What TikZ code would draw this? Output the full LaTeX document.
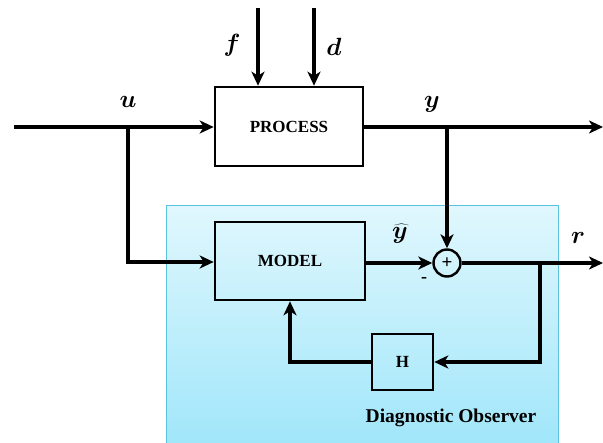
\documentclass[tikz,border=0pt]{standalone}
\usepackage{fontspec}
\setmainfont{Liberation Serif}
\usetikzlibrary{arrows.meta,calc}
\definecolor{obstop}{HTML}{E0F7FD}
\definecolor{obsbot}{HTML}{9FE6FA}
\definecolor{obsedge}{HTML}{5BC3DE}
\tikzset{
  blockbox/.style={draw=black, line width=2.6pt, minimum width=148pt, minimum height=79pt, font=\bfseries\fontsize{17}{19}\selectfont, inner sep=0pt},
  sig/.style={line width=4.6pt, -{Stealth[length=14pt,width=13pt,inset=4pt]}},
  lab/.style={font=\fontsize{24}{26}\selectfont\boldmath},
}
\begin{document}
\begin{tikzpicture}[x=1pt,y=-1pt]
\useasboundingbox (0,0) rectangle (603,443);
% observer area
\draw[draw=obsedge, line width=1pt, top color=obstop, bottom color=obsbot] (166,206) rectangle (558,450);
\node[font=\bfseries\fontsize{19.5}{21}\selectfont] (obs) at (451,418) {Diagnostic Observer};
% blocks
\node[blockbox, fill=white] (proc) at (289,126.5) {PROCESS};
\node[blockbox, minimum width=150pt, minimum height=78pt] (model) at (290,261) {MODEL};
\node[blockbox, minimum width=61pt, minimum height=56pt] (H) at (402.5,362) {H};
\node[draw=black, line width=2.4pt, circle, minimum size=27pt, inner sep=0pt, font=\bfseries\fontsize{19}{19}\selectfont] (sum) at (447,263) {+};
% coordinates
\coordinate (uin) at (14,127);
\coordinate (ubr) at (128,127);
\coordinate (ycorner) at (128,262);
\coordinate (yout) at (603,127);
\coordinate (ybr) at (447,127);
\coordinate (rout) at (603,263);
\coordinate (rbr) at (540,263);
\coordinate (ftop) at (258,8);
\coordinate (dtop) at (314,8);
% signals
\draw[sig] (ftop) -- (ftop |- proc.north);
\draw[sig] (dtop) -- (dtop |- proc.north);
\draw[sig] (uin) -- (proc.west |- uin);
\draw[sig] (ubr) -- (ycorner) -- (model.west |- ycorner);
\draw[sig] (proc.east |- yout) -- (yout);
\draw[sig] (ybr) -- (sum.north);
\draw[sig] (model.east |- sum) -- (sum.west);
\draw[sig] (sum.east) -- (rout);
\draw[sig] (rbr) -- (rbr |- H) -- (H.east);
\draw[sig] (H.west) -- (H.west -| model) -- (model.south);
% labels
\node[lab] (lf) at (232,45) {$f$};
\node[lab] (ld) at (334,47) {$d$};
\node[lab] (lu) at (128,102) {$u$};
\node[lab] (ly) at (432,104) {$y$};
\node[lab] (lyh) at (400,234) {$\widehat{y}$};
\node[lab] (lr) at (578,238) {$r$};
\node[font=\bfseries\fontsize{18}{18}\selectfont] (minus) at (424,280) {-};
\end{tikzpicture}
\end{document}
